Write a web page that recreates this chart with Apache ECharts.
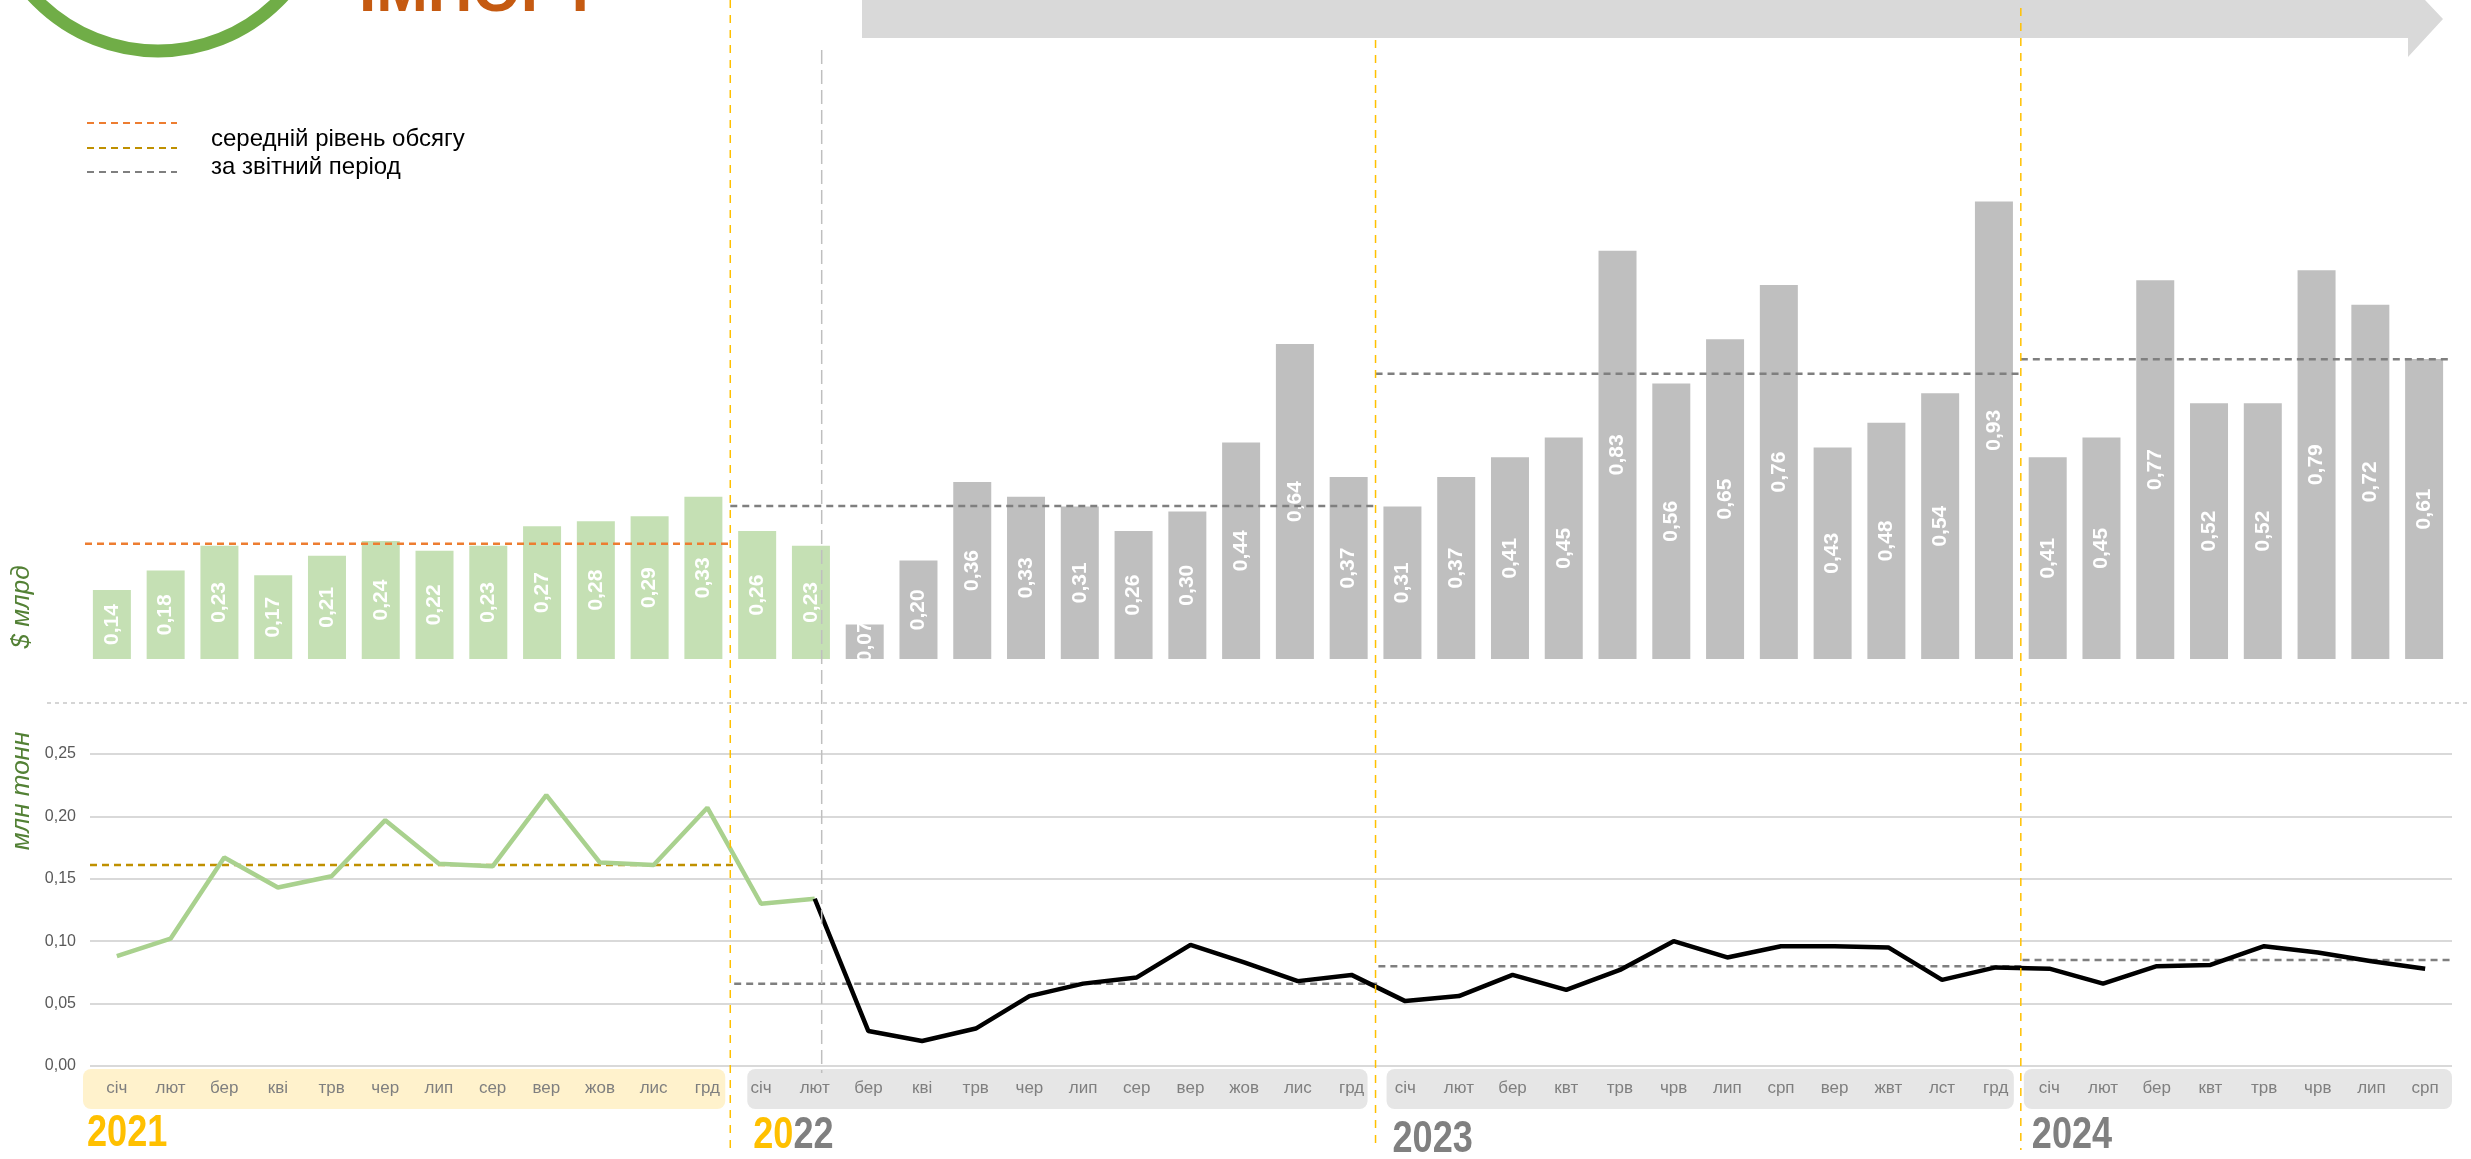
<!DOCTYPE html>
<html lang="uk">
<head>
<meta charset="UTF-8">
<title>Імпорт</title>
<script src="https://cdn.jsdelivr.net/npm/echarts@6/dist/echarts.min.js"></script>
<style>
html, body { margin: 0; padding: 0; background: #fff; }
#chart { width: 2471px; height: 1159px; }
</style>
</head>
<body>
<div id="chart"></div>
<script>
// місяці по роках
var months2021 = ['січ', 'лют', 'бер', 'кві', 'трв', 'чер', 'лип', 'сер', 'вер', 'жов', 'лис', 'грд'];
var months2022 = ['січ', 'лют', 'бер', 'кві', 'трв', 'чер', 'лип', 'сер', 'вер', 'жов', 'лис', 'грд'];
var months2023 = ['січ', 'лют', 'бер', 'квт', 'трв', 'чрв', 'лип', 'срп', 'вер', 'жвт', 'лст', 'грд'];
var months2024 = ['січ', 'лют', 'бер', 'квт', 'трв', 'чрв', 'лип', 'срп'];
var years = ['2021', '2022', '2023', '2024'];

// $ млрд
var usd2021 = [0.14, 0.18, 0.23, 0.17, 0.21, 0.24, 0.22, 0.23, 0.27, 0.28, 0.29, 0.33];
var usd2022 = [0.26, 0.23, 0.07, 0.20, 0.36, 0.33, 0.31, 0.26, 0.30, 0.44, 0.64, 0.37];
var usd2023 = [0.31, 0.37, 0.41, 0.45, 0.83, 0.56, 0.65, 0.76, 0.43, 0.48, 0.54, 0.93];
var usd2024 = [0.41, 0.45, 0.77, 0.52, 0.52, 0.79, 0.72, 0.61];

// млн тонн
var ton2021 = [0.088, 0.102, 0.167, 0.143, 0.152, 0.197, 0.162, 0.160, 0.217, 0.163, 0.161, 0.207];
var ton2022 = [0.130, 0.134, 0.028, 0.020, 0.030, 0.056, 0.066, 0.071, 0.097, 0.083, 0.068, 0.073];
var ton2023 = [0.052, 0.056, 0.073, 0.061, 0.077, 0.100, 0.087, 0.096, 0.096, 0.095, 0.069, 0.079];
var ton2024 = [0.078, 0.066, 0.080, 0.081, 0.096, 0.091, 0.084, 0.078];

// середній рівень за звітний період
var usdAvg = [0.234, 0.311, 0.580, 0.609];
var tonAvg = [0.161, 0.066, 0.080, 0.085];

var greenUntil = 13;      // до лютого 2022 включно
var invasionAt = 13.2;    // 24 лютого 2022

var monthsByYear = [months2021, months2022, months2023, months2024];
var months = [].concat(months2021, months2022, months2023, months2024);
var usd = [].concat(usd2021, usd2022, usd2023, usd2024);
var ton = [].concat(ton2021, ton2022, ton2023, ton2024);

// межі років в індексах категорій
var bounds = [-0.5];
monthsByYear.forEach(function (m) { bounds.push(bounds[bounds.length - 1] + m.length); });

var FONT = 'Liberation Sans';
var NARROW = "'Liberation Sans Narrow', 'Liberation Sans', sans-serif";

function comma(v, d) { return v.toFixed(d).replace('.', ','); }

var series = [
    {
        type: 'bar', xAxisIndex: 0, yAxisIndex: 0, barWidth: 38,
        data: usd.map(function (v, i) {
            return { value: v, itemStyle: { color: i <= greenUntil ? '#C5E0B4' : '#BFBFBF' } };
        }),
        label: {
            show: true, position: 'inside', rotate: 90, color: '#fff',
            fontFamily: FONT, fontWeight: 'bold', fontSize: 21,
            formatter: function (p) { return comma(p.value, 2); }
        }
    },
    {
        type: 'line', xAxisIndex: 2, yAxisIndex: 1, symbol: 'none',
        data: ton.map(function (v, i) { return i <= greenUntil ? v : '-'; }),
        lineStyle: { color: '#A9D18E', width: 4.5 }
    },
    {
        type: 'line', xAxisIndex: 2, yAxisIndex: 1, symbol: 'none',
        data: ton.map(function (v, i) { return i >= greenUntil ? v : '-'; }),
        lineStyle: { color: '#000', width: 4.5 }
    }
];

years.forEach(function (y, k) {
    series.push({
        type: 'line', xAxisIndex: 1, yAxisIndex: 0, symbol: 'none', silent: true, z: 5,
        data: [[bounds[k], usdAvg[k]], [bounds[k + 1], usdAvg[k]]],
        lineStyle: { color: k === 0 ? '#ED7D31' : '#7F7F7F', width: 2.5, type: [7, 5] }
    });
    series.push({
        type: 'line', xAxisIndex: 3, yAxisIndex: 1, symbol: 'none', silent: true, z: 1,
        data: [[bounds[k], tonAvg[k]], [bounds[k + 1], tonAvg[k]]],
        lineStyle: { color: k === 0 ? '#BF9000' : '#7F7F7F', width: 2.5, type: [7, 5] }
    });
});

var chart = echarts.init(document.getElementById('chart'), null, { renderer: 'canvas' });

chart.setOption({
    animation: false,
    grid: [
        { left: 85, right: 20, top: 167, bottom: 500 },
        { left: 90, right: 19, top: 754, bottom: 93 }
    ],
    xAxis: [
        { type: 'category', gridIndex: 0, data: months, show: false },
        { type: 'value', gridIndex: 0, min: -0.5, max: 43.5, show: false },
        {
            type: 'category', gridIndex: 1, data: months,
            axisLine: { show: false }, axisTick: { show: false },
            axisLabel: { color: '#7F7F7F', fontSize: 17, fontFamily: NARROW, margin: 14, interval: 0 }
        },
        { type: 'value', gridIndex: 1, min: -0.5, max: 43.5, show: false }
    ],
    yAxis: [
        { type: 'value', gridIndex: 0, min: 0, max: 1, show: false },
        {
            type: 'value', gridIndex: 1, min: 0, max: 0.25, interval: 0.05,
            axisLine: { show: false }, axisTick: { show: false },
            axisLabel: {
                color: '#595959', fontSize: 16, fontFamily: FONT, margin: 14,
                formatter: function (v) { return comma(v, 2); }
            },
            splitLine: { lineStyle: { color: '#D9D9D9', width: 2 } }
        }
    ],
    series: series
});

// позиції меж років у пікселях
var bx = bounds.map(function (b) { return chart.convertToPixel({ xAxisIndex: 1 }, b); });
var invX = chart.convertToPixel({ xAxisIndex: 1 }, invasionAt);

var graphic = [
    // логотип і заголовок
    { type: 'circle', shape: { cx: 158, cy: -119, r: 170 }, style: { fill: 'none', stroke: '#70AD47', lineWidth: 13 } },
    { type: 'text', x: 359, y: -6, style: { text: 'ІМПОРТ', fill: '#C55A11', font: 'bold 62px ' + FONT, verticalAlign: 'middle' } },
    // стрілка часу
    { type: 'polygon', shape: { points: [[862, 0], [2408, 0], [2408, -18], [2443, 19], [2408, 57], [2408, 38], [862, 38]] }, style: { fill: '#D9D9D9' } },
    // легенда
    { type: 'line', shape: { x1: 87, y1: 123, x2: 177, y2: 123 }, style: { stroke: '#ED7D31', lineWidth: 2, lineDash: [7, 5] } },
    { type: 'line', shape: { x1: 87, y1: 148, x2: 177, y2: 148 }, style: { stroke: '#BF9000', lineWidth: 2, lineDash: [7, 5] } },
    { type: 'line', shape: { x1: 87, y1: 172, x2: 177, y2: 172 }, style: { stroke: '#7F7F7F', lineWidth: 2, lineDash: [7, 5] } },
    { type: 'text', x: 211, y: 139, style: { text: 'середній рівень обсягу', fill: '#000', font: '24px ' + NARROW, verticalAlign: 'middle' } },
    { type: 'text', x: 211, y: 167, style: { text: 'за звітний період', fill: '#000', font: '24px ' + NARROW, verticalAlign: 'middle' } },
    // назви осей
    { type: 'text', x: 22, y: 607, rotation: Math.PI / 2, style: { text: '$ млрд', fill: '#538135', font: 'italic 26px ' + FONT, align: 'center', verticalAlign: 'middle' } },
    { type: 'text', x: 22, y: 791, rotation: Math.PI / 2, style: { text: 'млн тонн', fill: '#538135', font: 'italic 26px ' + FONT, align: 'center', verticalAlign: 'middle' } },
    // роздільник
    { type: 'line', shape: { x1: 47, y1: 703, x2: 2471, y2: 703 }, style: { stroke: '#C8C8C8', lineWidth: 1.5, lineDash: [4, 4] } },
    // 24 лютого 2022
    { type: 'line', z: 10, shape: { x1: invX, y1: 50, x2: invX, y2: 1073 }, style: { stroke: '#BFBFBF', lineWidth: 1.5, lineDash: [14, 6] } }
];

// межі років: жовті пунктири
var lineTops = [0, 40, 8];
[1, 2, 3].forEach(function (k, j) {
    graphic.push({ type: 'line', z: 10, shape: { x1: bx[k], y1: lineTops[j], x2: bx[k], y2: 1150 }, style: { stroke: '#FFC000', lineWidth: 1.5, lineDash: [8, 7] } });
});

// підкладки під місяцями
var padL = [-2, 17, 11, 3], padR = [-5, -8, -7, 1];
years.forEach(function (y, k) {
    var x0 = bx[k] + padL[k], x1 = bx[k + 1] + padR[k];
    graphic.push({ type: 'rect', z: -1, shape: { x: x0, y: 1069, width: x1 - x0, height: 40, r: 8 }, style: { fill: k === 0 ? '#FFF2CC' : '#E6E6E6' } });
});

// підписи років (вузький шрифт імітуємо стисненням)
var yearX = [bx[0] + 2, bx[1] + 23, bx[2] + 17, bx[3] + 11];
var yearY = [1134, 1136, 1140, 1136];
years.forEach(function (y, k) {
    var st = { fill: '#808080', font: 'bold 44px ' + NARROW, verticalAlign: 'middle' };
    if (k === 0) { st.text = y; st.fill = '#FFC000'; }
    else if (k === 1) {
        st.text = '{a|' + y.slice(0, 2) + '}{b|' + y.slice(2) + '}';
        st.rich = { a: { fill: '#FFC000', font: 'bold 44px ' + NARROW }, b: { fill: '#808080', font: 'bold 44px ' + NARROW } };
    } else { st.text = y; }
    graphic.push({ type: 'text', x: yearX[k], y: yearY[k], scaleX: 0.82, style: st });
});

chart.setOption({ graphic: graphic });
</script>
</body>
</html>
